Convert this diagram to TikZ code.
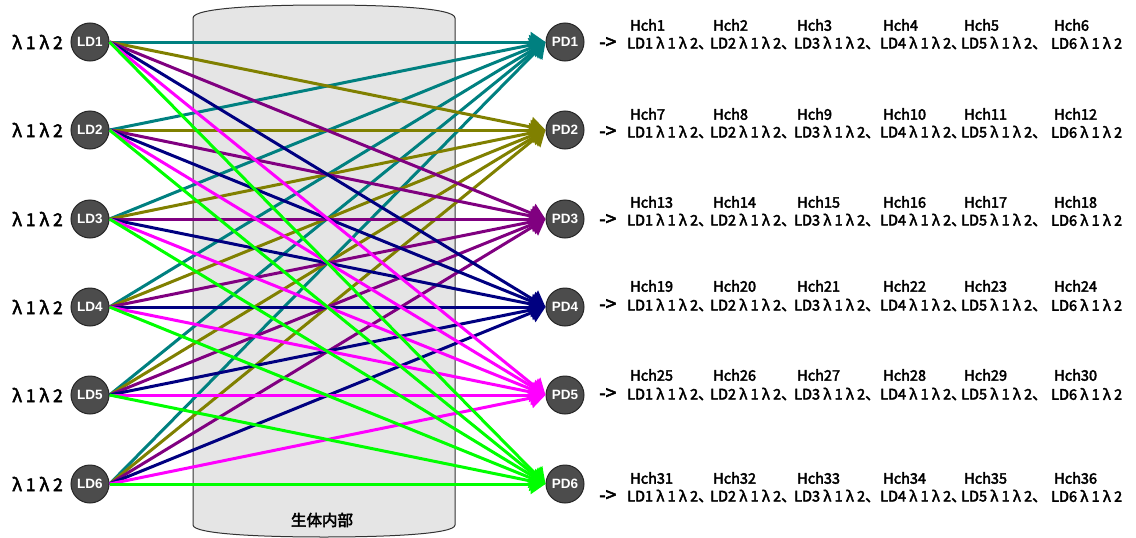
\documentclass[tikz,border=0pt]{standalone}
\usepackage{fontspec}
\setmainfont{Noto Sans CJK JP}[FakeBold=3]
\newfontfamily\latinsans{Liberation Sans}
\usetikzlibrary{arrows.meta}
\definecolor{col1}{RGB}{0,128,128}
\definecolor{col2}{RGB}{128,128,0}
\definecolor{col3}{RGB}{128,0,128}
\definecolor{col4}{RGB}{0,0,128}
\definecolor{col5}{RGB}{255,0,255}
\definecolor{col6}{RGB}{0,255,0}
\newcommand\lam{\makebox[1em]{λ}}

\begin{document}
\begin{tikzpicture}[x=1pt,y=-1pt,
  dev/.style={circle,minimum size=38pt,inner sep=0pt,fill=black!70,draw=black!85,line width=1pt,
    text=white,font=\latinsans\bfseries\fontsize{13.5}{13.5}\selectfont},
  wire/.style={line width=3pt,-{Triangle[length=15pt,width=20pt]}},
  txt/.style={inner sep=0pt,font=\fontsize{14.5}{14.5}\selectfont}]
\useasboundingbox (0,0) rectangle (1136,538);
\draw[fill=gray!20,draw=black!80,line width=1pt] (193,525) -- (193,18)
  .. controls (193,8) and (260,5) .. (324,5) .. controls (388,5) and (455,8) .. (455,18)
  -- (455,525) .. controls (455,534) and (388,537) .. (324,537)
  .. controls (260,537) and (193,534) .. (193,525);
\node[txt,font=\fontsize{15.5}{15.5}\selectfont] (body) at (322,520) {生体内部};
\foreach \i/\y in {1/42,2/130,3/219,4/307,5/395,6/484}{
  \node[dev] (LD\i) at (90,\y) {LD\i};
  \node[dev] (PD\i) at (565,\y) {PD\i};
  \node[txt,anchor=east,font=\fontsize{17.5}{17.5}\selectfont] (lam\i) at (63,\y) {\lam1\lam2};
}
\foreach \j in {1,...,6}
  \foreach \i in {1,...,6}
    \draw[wire,draw=col\j,fill=col\j] (LD\i.east) -- (PD\j.west);
\foreach \j/\yt/\yh in {1/43/25,2/132/114,3/220/202,4/305/286,5/394/375,6/496/478}{
  \node[txt,anchor=west,font=\fontsize{19}{19}\selectfont] (to\j) at (599,\yt) {->};
  \foreach \k/\x in {1/627,2/710,3/794,4/880,5/961,6/1051}{
    \pgfmathtruncatemacro\n{(\j-1)*6+\k}
    \node[txt,anchor=west] (g\j-\k) at (\x,\yt) {LD\k\lam1\lam2\ifnum\k<6 、\fi};
    \node[txt,anchor=west] (h\j-\k) at (\x+3,\yh) {Hch\n};
  }
}
\end{tikzpicture}
\end{document}
